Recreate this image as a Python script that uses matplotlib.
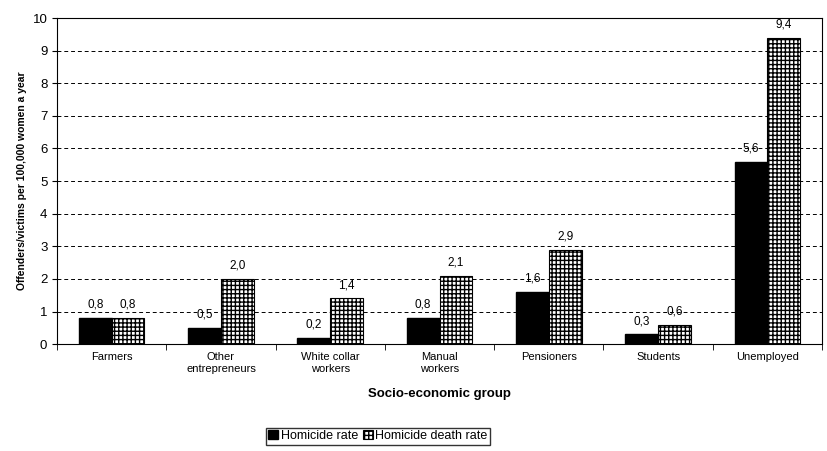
import matplotlib
matplotlib.use("Agg")
import matplotlib.pyplot as plt
import numpy as np

plt.rcParams["font.family"] = ["Liberation Sans", "DejaVu Sans"]
plt.rcParams["hatch.linewidth"] = 1.0

groups = ["Farmers", "Other\nentrepreneurs", "White collar\nworkers", "Manual\nworkers",
          "Pensioners", "Students", "Unemployed"]
homicide_rate = [0.8, 0.5, 0.2, 0.8, 1.6, 0.3, 5.6]
death_rate = [0.8, 2.0, 1.4, 2.1, 2.9, 0.6, 9.4]

fig = plt.figure(figsize=(8.27, 4.51), dpi=100)
ax = fig.add_axes([0.069, 0.237, 0.925, 0.723])
x = np.arange(len(groups))
w = 0.3
b1 = ax.bar(x - w / 2, homicide_rate, w, color="black", edgecolor="black", label="Homicide rate", zorder=3)
b2 = ax.bar(x + w / 2, death_rate, w, color="white", edgecolor="black", hatch="++++",
            linewidth=0.8, label="Homicide death rate", zorder=3)
for bars, vals in ((b1, homicide_rate), (b2, death_rate)):
    for r, v in zip(bars, vals):
        ax.text(r.get_x() + r.get_width() / 2, v + 0.22, f"{v:.1f}".replace(".", ","),
                ha="center", va="bottom", fontsize=8.5)

ax.set_xlim(-0.5, len(groups) - 0.5)
ax.set_ylim(0, 10)
ax.set_yticks(range(11))
ax.yaxis.grid(True, linestyle=(0, (4, 3)), color="black", linewidth=0.7, zorder=0)
ax.set_xticks(x)
ax.set_xticklabels(groups, fontsize=8)
ax.tick_params(axis="y", labelsize=9.5)
ax.tick_params(axis="x", length=0, pad=6)
ax.set_xticks(np.arange(len(groups) + 1) - 0.5, minor=True)
ax.tick_params(axis="x", which="minor", length=4)
ax.set_xlabel("Socio-economic group", fontsize=9.5, fontweight="bold", labelpad=10)
ax.set_ylabel("Offenders/victims per 100,000 women a year", fontsize=7.5, fontweight="bold")
for s in ax.spines.values():
    s.set_linewidth(0.8)
fig.legend(loc="center", bbox_to_anchor=(0.457, 0.033), ncol=2, fontsize=9,
           frameon=True, fancybox=False, edgecolor="black", handlelength=0.8,
           handletextpad=0.2, columnspacing=0.4, borderpad=0.2)
fig.savefig("out.png", dpi=100)
